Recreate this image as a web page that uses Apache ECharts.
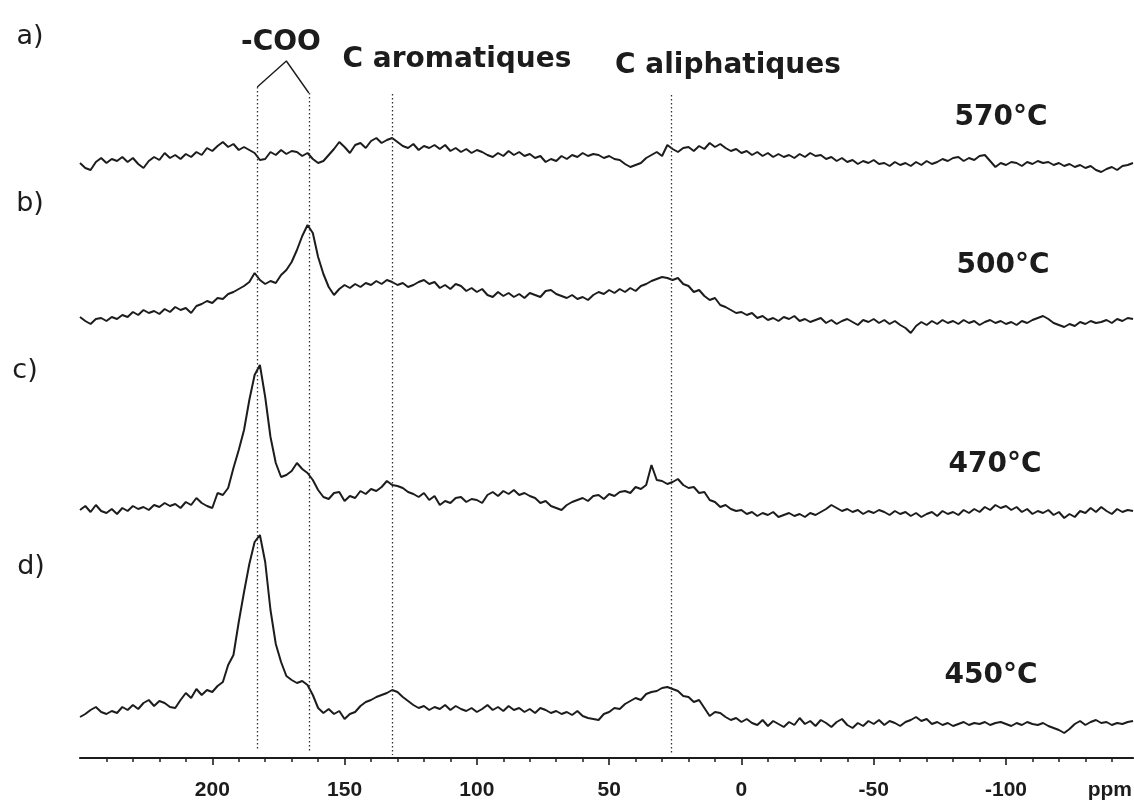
<!DOCTYPE html>
<html><head><meta charset="utf-8">
<script src="https://cdn.jsdelivr.net/npm/echarts@6/dist/echarts.min.js"></script>
<style>html,body{margin:0;padding:0;background:#fff;}#c{width:1134px;height:801px;}</style>
</head><body><div id="c"></div>
<script>
// Sampling grid of the spectra (ppm), from 250 down to -148 ppm
const ppmStart = 250, ppmStep = -2;

// a) 570°C
const trace570 = [
 2,-3,-5,3,7,2,6,4,8,3,
 7,1,-3,4,8,5,12,7,10,6,
 11,8,13,10,17,14,19,23,18,21,
 15,18,15,12,5,6,13,10,15,11,
 14,13,9,12,6,2,4,10,16,23,
 18,12,20,22,17,24,27,22,25,27,
 23,19,17,21,15,19,17,20,16,20,
 14,17,13,16,12,15,13,10,8,12,
 9,14,10,13,9,11,7,9,3,6,
 4,9,6,10,8,12,9,11,10,7,
 9,6,5,1,-2,0,2,7,10,13,
 9,20,16,13,17,18,14,19,16,22,
 18,21,17,14,16,12,14,10,13,9,
 12,8,11,8,10,7,11,8,12,9,
 10,6,8,4,7,3,5,1,4,2,
 5,1,2,-1,3,0,2,-1,3,0,
 4,1,3,6,4,7,8,4,7,5,
 9,10,4,-2,2,0,3,2,-1,3,
 1,4,2,3,0,2,-1,1,-2,0,
 -3,-1,-5,-7,-4,-2,-5,-1,0,2
];
// b) 500°C
const trace500 = [
 5,1,-2,3,4,1,5,3,7,5,
 10,7,12,9,11,8,13,10,15,12,
 14,9,16,18,21,19,24,23,28,30,
 33,36,40,49,42,38,41,39,47,52,
 60,72,86,97,89,65,48,35,27,33,
 37,34,38,35,39,37,41,38,42,40,
 37,39,35,37,40,42,38,40,34,37,
 33,38,36,31,34,30,33,27,25,30,
 26,29,25,28,24,29,27,25,31,32,
 28,26,24,27,23,25,22,27,30,28,
 32,29,33,30,34,31,36,38,41,43,
 45,44,42,44,38,36,30,32,26,22,
 24,17,15,12,9,10,7,9,4,6,
 2,4,1,5,3,6,1,3,0,2,
 4,-1,2,-2,1,3,0,-3,2,0,
 3,-1,2,-2,1,-3,-6,-11,-4,0,
 -3,1,-2,2,-1,1,-2,2,-1,1,
 -3,0,2,-1,1,-2,0,-3,1,-1,
 2,4,6,3,-1,-3,-5,-2,-4,0,
 -2,1,-1,0,2,-1,3,1,4,3
];
// c) 470°C
const trace470 = [
 5,9,3,10,4,2,6,1,7,4,
 9,6,8,5,10,8,12,9,11,7,
 13,10,17,12,9,7,22,20,27,47,
 65,85,115,140,150,118,78,52,38,40,
 44,52,46,42,35,25,18,16,22,23,
 14,19,17,24,21,26,24,28,34,30,
 29,27,23,21,18,22,15,19,10,14,
 12,17,18,13,16,15,12,20,23,19,
 24,21,25,20,22,19,17,12,14,9,
 7,5,10,13,15,17,14,19,20,16,
 21,19,23,24,22,28,26,30,50,35,
 34,31,33,36,30,27,28,22,23,15,
 13,8,10,6,4,5,1,3,-1,2,
 0,3,-2,0,2,-1,1,-2,2,0,
 3,6,10,7,4,6,3,5,1,4,
 2,5,3,0,4,1,3,-1,2,-2,
 1,3,-1,4,1,3,0,5,2,6,
 3,8,5,10,7,9,5,8,3,6,
 1,4,2,5,0,3,-3,1,-2,4,
 2,7,3,8,4,1,6,3,5,4
];
// d) 450°C
const trace450 = [
 5,8,12,15,10,8,11,9,15,12,
 17,13,19,22,16,21,19,15,14,22,
 29,24,33,27,32,30,36,40,57,67,
 100,130,158,180,187,160,112,78,60,46,
 42,39,41,37,27,14,9,13,8,11,
 3,8,10,16,20,22,25,27,29,32,
 30,25,21,17,14,16,12,15,13,17,
 12,16,13,11,14,10,13,17,12,15,
 11,16,12,14,10,13,9,14,12,9,
 11,8,10,7,11,6,4,3,2,8,
 10,14,13,18,21,24,22,28,30,31,
 34,35,33,31,26,25,20,22,14,6,
 10,9,5,2,4,0,3,-1,-3,2,
 -4,1,-2,-5,0,-3,4,-2,1,-4,
 2,-1,-5,0,3,-3,-6,-1,-4,1,
 -2,2,-3,1,-1,-4,0,2,5,1,
 3,-2,0,-3,-1,-4,-2,0,-3,-1,
 -2,0,-3,-1,0,-2,-4,-1,-3,0,
 -2,-3,-1,-4,-6,-8,-11,-7,-2,1,
 -3,0,2,-1,0,-3,-1,-2,0,1
];

const traces = [trace570, trace500, trace470, trace450];
const stackOffsets = [593, 436, 243, 36];      // vertical offset of each stacked spectrum
const temperatures = ['570°C', '500°C', '470°C', '450°C'];
const panelLabels = ['a)', 'b)', 'c)', 'd)'];
const markerPpm = [183, 163.5, 132, 26.7];      // dotted reference lines
const markerTop = [671, 665, 664, 663];
const markerBottom = [8, 5, 3, 3];
const cooBracket = [[183, 671], [172, 697], [163.5, 665]];
const majorTicks = [200, 150, 100, 50, 0, -50, -100];
const minorTicks = [240,230,220,210,190,180,170,160,140,130,120,110,90,80,70,60,40,30,20,10,
                    -10,-20,-30,-40,-60,-70,-80,-90,-110,-120,-130,-140];

const chart = echarts.init(document.getElementById('c'), null, {renderer: 'canvas'});
const ink = '#1c1c1c';

const series = traces.map((t, k) => ({
  type: 'line', xAxisIndex: 0, yAxisIndex: 0,
  data: t.map((v, i) => [ppmStart + ppmStep * i, stackOffsets[k] + v]),
  showSymbol: false, symbol: 'none', silent: true,
  lineStyle: {color: ink, width: 2}, z: 3
}));
series.push({
  type: 'line', xAxisIndex: 0, yAxisIndex: 0, data: cooBracket,
  showSymbol: false, symbol: 'none', silent: true,
  lineStyle: {color: ink, width: 1.4},
  markLine: {
    silent: true, symbol: ['none', 'none'], label: {show: false},
    lineStyle: {color: '#333', width: 1.3, type: [1.5, 2.5]},
    data: markerPpm.map((p, i) => [{coord: [p, markerTop[i]]}, {coord: [p, markerBottom[i]]}])
  }
});

const graphic = [];
const annot = [
  {t: '-COO', x: 281, y: 43}, {t: 'C aromatiques', x: 457, y: 60}, {t: 'C aliphatiques', x: 728, y: 66}
];
annot.forEach(a => graphic.push({type: 'text', x: a.x, y: a.y, style: {
  text: a.t, fill: ink, font: 'bold 28px "DejaVu Sans"', textAlign: 'center', textVerticalAlign: 'middle'}}));
const tempPos = [[1001, 118], [1003, 266], [995, 465], [991, 676]];
temperatures.forEach((t, i) => graphic.push({type: 'text', x: tempPos[i][0], y: tempPos[i][1], style: {
  text: t, fill: ink, font: 'bold 28px "DejaVu Sans"', textAlign: 'center', textVerticalAlign: 'middle'}}));
const labPos = [[30, 37], [30, 204], [25, 371], [31, 567]];
panelLabels.forEach((t, i) => graphic.push({type: 'text', x: labPos[i][0], y: labPos[i][1], style: {
  text: t, fill: ink, font: '27px "DejaVu Sans"', textAlign: 'center', textVerticalAlign: 'middle'}}));
graphic.push({type: 'text', x: 1132, y: 790, style: {text: 'ppm', fill: ink,
  font: 'bold 21px "Liberation Sans"', textAlign: 'right', textVerticalAlign: 'middle'}});

chart.setOption({
  animation: false,
  backgroundColor: '#fff',
  grid: {left: 80, right: 1, top: 0, bottom: 43, containLabel: false},
  xAxis: [
    {type: 'value', min: -148, max: 250, inverse: true, position: 'bottom',
     axisLine: {show: true, lineStyle: {color: ink, width: 2.2}},
     axisTick: {show: true, customValues: minorTicks, length: 4, lineStyle: {color: ink, width: 1.5}},
     axisLabel: {show: true, customValues: majorTicks, margin: 22, color: ink,
       fontFamily: 'Liberation Sans', fontWeight: 'bold', fontSize: 21},
     splitLine: {show: false}},
    {type: 'value', min: -148, max: 250, inverse: true, position: 'bottom', offset: 0,
     axisLine: {show: false},
     axisTick: {show: true, customValues: majorTicks, length: 7, lineStyle: {color: ink, width: 1.6}},
     axisLabel: {show: false}, splitLine: {show: false}}
  ],
  yAxis: {type: 'value', min: 0, max: 758, show: false},
  series: series,
  graphic: graphic
});
</script></body></html>
